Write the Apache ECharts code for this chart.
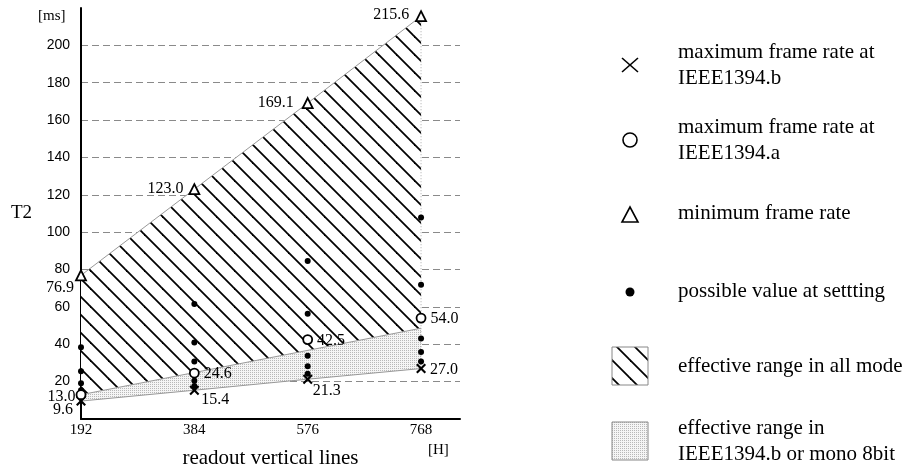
<!DOCTYPE html>
<html><head><meta charset="utf-8">
<script src="https://cdn.jsdelivr.net/npm/echarts@6/dist/echarts.min.js"></script>
<style>html,body{margin:0;padding:0;background:#fff}#chart{width:911px;height:474px}</style>
</head><body><div id="chart"></div>
<script>
// ---- data ----
const readoutLines = [192, 384, 576, 768];
const minFrameRate = [76.9, 123.0, 169.1, 215.6];      // triangles
const maxRateA = [13.0, 24.6, 42.5, 54.0];              // circles (IEEE1394.a)
const maxRateB = [9.6, 15.4, 21.3, 27.0];               // crosses (IEEE1394.b)
const possibleValues = [
  [38.4, 25.6, 19.2, 15.4],
  [61.5, 41.0, 30.8, 20.5, 17.6],
  [84.6, 56.4, 33.8, 28.2, 24.2],
  [107.8, 71.9, 43.1, 35.9, 30.8]
];
const modeSplitX = [192, 768];
const modeSplitY = [13.0, 48.6];
const xTickLabels = [192, 384, 576, 768];

// ---- label placement (style only) : [position, distance, dx, dy]
const triLabelPos = [['left', 1, 0, 12], ['left', 5, 0, 0], ['left', 8, 0, 0], ['left', 6, 0, -1]];
const circLabelPos = [['left', 0, 0, 2], ['right', 4, 0, 1], ['right', 4, 0, 1], ['right', 4, 0, 1]];
const crossLabelPos = [['left', 3, 0, 9], ['right', 2, 0, 10], ['right', 0, 0, 12], ['right', 4, 0, 1]];

// ---- patterns ----
function makeHatch() {
  const s = 18, c = document.createElement('canvas');
  c.width = s; c.height = s;
  const g = c.getContext('2d');
  g.fillStyle = '#fff'; g.fillRect(0, 0, s, s);
  g.strokeStyle = '#000'; g.lineWidth = 1.8;
  for (let k = -1; k <= 1; k++) {
    g.beginPath(); g.moveTo(-s, -s + k * s); g.lineTo(2 * s, 2 * s + k * s); g.stroke();
  }
  return { image: c, repeat: 'repeat' };
}
function makeStipple() {
  const c = document.createElement('canvas');
  c.width = 2; c.height = 2;
  const g = c.getContext('2d');
  g.fillStyle = '#f5f5f5'; g.fillRect(0, 0, 2, 2);
  g.fillStyle = '#b8b8b8'; g.fillRect(0, 0, 1, 1);
  return { image: c, repeat: 'repeat' };
}
const hatch = makeHatch();
const stipple = makeStipple();

const serif = 'Liberation Serif';
const crossPath = 'path://M0,1.5L1.5,0L5,3.5L8.5,0L10,1.5L6.5,5L10,8.5L8.5,10L5,6.5L1.5,10L0,8.5L3.5,5Z';

function withLabels(vals, pos) {
  return readoutLines.map((x, i) => ({
    value: [x, vals[i]],
    label: {
      show: true, position: pos[i][0], distance: pos[i][1], offset: [pos[i][2], pos[i][3]],
      formatter: vals[i].toFixed(1), fontFamily: serif, fontSize: 16, color: '#000'
    }
  }));
}

const dots = [];
readoutLines.forEach((x, i) => possibleValues[i].forEach(v => dots.push([x, v])));

const chart = echarts.init(document.getElementById('chart'));
chart.setOption({
  animation: false,
  backgroundColor: '#fff',
  grid: { left: 81, right: 451, top: 8, bottom: 52, containLabel: false },
  xAxis: {
    type: 'value', min: 192, max: 834, interval: 192,
    name: 'readout vertical lines', nameLocation: 'middle', nameGap: 29,
    nameTextStyle: { fontFamily: serif, fontSize: 21, color: '#000' },
    axisLine: { lineStyle: { color: '#000', width: 2 } },
    axisTick: { show: false },
    splitLine: { show: false },
    axisLabel: {
      margin: 4, fontFamily: serif, fontSize: 15, color: '#000',
      formatter: v => (xTickLabels.indexOf(v) >= 0 ? String(v) : '')
    }
  },
  yAxis: {
    type: 'value', min: 0, max: 220, interval: 20,
    name: 'T2', nameLocation: 'middle', nameRotate: 0, nameGap: 49,
    nameTextStyle: { fontFamily: serif, fontSize: 19, color: '#000' },
    axisLine: { show: true, lineStyle: { color: '#000', width: 2 } },
    axisTick: { show: false },
    axisLabel: { margin: 11, fontFamily: 'Liberation Sans', fontSize: 14, color: '#000', showMinLabel: false, showMaxLabel: false },
    splitLine: { show: true, showMinLine: false, showMaxLine: false, lineStyle: { color: '#8a8a8a', width: 1, type: [7, 4] } }
  },
  series: [
    {
      type: 'custom', z: 1, silent: true,
      data: [[192, 0]],
      renderItem: function (params, api) {
        const top = readoutLines.map((x, i) => api.coord([x, minFrameRate[i]]));
        const split = modeSplitX.map((x, i) => api.coord([x, modeSplitY[i]]));
        const low = readoutLines.map((x, i) => api.coord([x, maxRateB[i]]));
        const hatchPoly = top.concat(split.slice().reverse());
        const stipPoly = split.concat(low.slice().reverse());
        const n = top.length - 1;
        return {
          type: 'group', children: [
            { type: 'polygon', shape: { points: stipPoly }, style: { fill: stipple } },
            { type: 'polygon', shape: { points: hatchPoly }, style: { fill: hatch } },
            { type: 'polyline', shape: { points: top }, style: { stroke: '#999', lineWidth: 1, fill: null } },
            { type: 'polyline', shape: { points: split }, style: { stroke: '#999', lineWidth: 1, fill: null } },
            { type: 'polyline', shape: { points: low }, style: { stroke: '#999', lineWidth: 1, fill: null } },
            { type: 'line', shape: { x1: top[n][0], y1: top[n][1], x2: low[n][0], y2: low[n][1] },
              style: { stroke: '#aaa', lineWidth: 1, lineDash: [1, 2] } }
          ]
        };
      }
    },
    {
      name: 'possible value at settting', type: 'scatter', z: 3,
      symbol: 'circle', symbolSize: 6, itemStyle: { color: '#000', opacity: 1 }, data: dots
    },
    {
      name: 'maximum frame rate at IEEE1394.b', type: 'scatter', z: 4,
      symbol: crossPath, symbolSize: 10, itemStyle: { color: '#000', opacity: 1 },
      data: withLabels(maxRateB, crossLabelPos)
    },
    {
      name: 'maximum frame rate at IEEE1394.a', type: 'scatter', z: 4,
      symbol: 'circle', symbolSize: 9, itemStyle: { color: '#fff', borderColor: '#000', borderWidth: 1.8, opacity: 1 },
      data: withLabels(maxRateA, circLabelPos)
    },
    {
      name: 'minimum frame rate', type: 'scatter', z: 4,
      symbol: 'triangle', symbolSize: 10, itemStyle: { color: '#fff', borderColor: '#000', borderWidth: 1.8, opacity: 1 },
      data: withLabels(minFrameRate, triLabelPos)
    }
  ],
  graphic: [
    { type: 'text', left: 38, top: 9, style: { text: '[ms]', font: '15px ' + serif, fill: '#000' } },
    { type: 'text', left: 428, top: 443, style: { text: '[H]', font: '15px ' + serif, fill: '#000' } },
    // legend
    { type: 'line', shape: { x1: 622, y1: 58, x2: 638, y2: 72 }, style: { stroke: '#000', lineWidth: 1.6 } },
    { type: 'line', shape: { x1: 638, y1: 58, x2: 622, y2: 72 }, style: { stroke: '#000', lineWidth: 1.6 } },
    { type: 'text', x: 678, y: 65, style: { text: 'maximum frame rate at\nIEEE1394.b', font: '21px ' + serif, lineHeight: 26, verticalAlign: 'middle', fill: '#000' } },
    { type: 'circle', shape: { cx: 630, cy: 140, r: 7 }, style: { stroke: '#000', lineWidth: 1.6, fill: '#fff' } },
    { type: 'text', x: 678, y: 140, style: { text: 'maximum frame rate at\nIEEE1394.a', font: '21px ' + serif, lineHeight: 26, verticalAlign: 'middle', fill: '#000' } },
    { type: 'polygon', shape: { points: [[622, 222], [638, 222], [630, 207]] }, style: { stroke: '#000', lineWidth: 1.6, fill: '#fff' } },
    { type: 'text', x: 678, y: 213, style: { text: 'minimum frame rate', font: '21px ' + serif, verticalAlign: 'middle', fill: '#000' } },
    { type: 'circle', shape: { cx: 630, cy: 292, r: 4.5 }, style: { fill: '#000' } },
    { type: 'text', x: 678, y: 291, style: { text: 'possible value at settting', font: '21px ' + serif, verticalAlign: 'middle', fill: '#000' } },
    { type: 'rect', shape: { x: 612, y: 347, width: 36, height: 38 }, style: { fill: hatch, stroke: '#888', lineWidth: 1 } },
    { type: 'text', x: 678, y: 366, style: { text: 'effective range in all mode', font: '21px ' + serif, verticalAlign: 'middle', fill: '#000' } },
    { type: 'rect', shape: { x: 612, y: 422, width: 36, height: 38 }, style: { fill: stipple, stroke: '#888', lineWidth: 1 } },
    { type: 'text', x: 678, y: 441, style: { text: 'effective range in\nIEEE1394.b or mono 8bit', font: '21px ' + serif, lineHeight: 26, verticalAlign: 'middle', fill: '#000' } }
  ]
});
</script>
</body></html>
